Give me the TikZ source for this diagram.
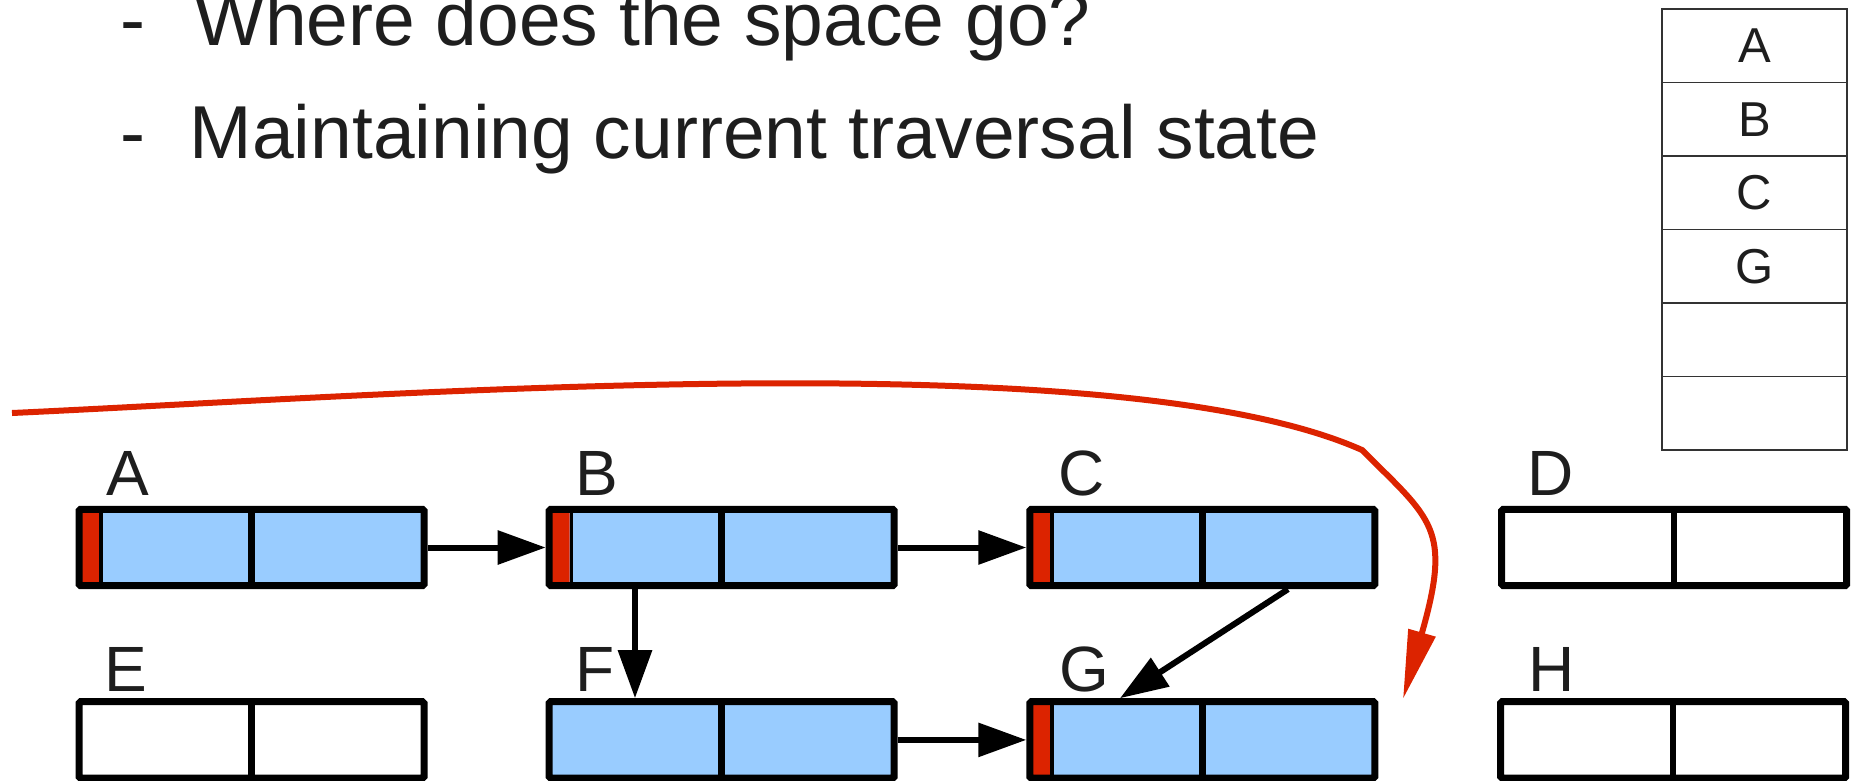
\documentclass[tikz,border=0pt]{standalone}
\usepackage{fontspec}
\setmainfont{Liberation Sans}
\usetikzlibrary{arrows.meta}
\definecolor{cellblue}{HTML}{99CCFF}
\definecolor{markred}{HTML}{DC2300}
\definecolor{ink}{HTML}{1E1E1E}
\tikzset{
  cell/.style={draw=black, line width=7pt, minimum width=345pt, minimum height=76.4pt,
    inner sep=0pt, rounded corners=1.5pt,
    path picture={\draw[line width=6.5pt] (path picture bounding box.north) -- (path picture bounding box.south);}},
  livecell/.style={cell, fill=cellblue},
  markcell/.style={cell, fill=cellblue,
    path picture={
      \fill[markred] (path picture bounding box.north west) rectangle ([xshift=20.5pt]path picture bounding box.south west);
      \draw[line width=3.5pt] ([xshift=22.2pt]path picture bounding box.north west) -- ([xshift=22.2pt]path picture bounding box.south west);
      \draw[line width=6.5pt] (path picture bounding box.north) -- (path picture bounding box.south);}},
  lbl/.style={inner sep=0pt, anchor=base west, text=ink, font=\fontsize{64pt}{70pt}\selectfont},
  title/.style={inner sep=0pt, anchor=base west, text=ink, font=\fontsize{75pt}{80pt}\selectfont},
  stackcell/.style={draw=black!80, line width=1.6pt, minimum width=185.3pt, minimum height=73.45pt,
    inner sep=0pt, text=ink, font=\fontsize{49pt}{54pt}\selectfont},
  link/.style={line width=6pt, -{Triangle[length=48pt,width=33pt]}},
  trav/.style={draw=markred, line width=6pt, -{Triangle[length=69pt,width=27pt]}},
}
\begin{document}
\begin{tikzpicture}[x=1pt,y=-1pt]
\useasboundingbox (0,0) rectangle (1854,780);
\clip (0,0) rectangle (1854,780);

% title lines
\node[title] (d1) at (120.7,45) {-};
\node[title] (t1) at (194,45) {Where does the space go?};
\node[title] (d2) at (120.7,158) {-};
\node[title] (t2) at (189.5,158) {Maintaining current traversal state};

% stack
\node[stackcell] (s1) at (1754.35,45.8) {A};
\node[stackcell] (s2) at (1754.35,119.25) {B};
\node[stackcell] (s3) at (1754.35,192.7) {C};
\node[stackcell] (s4) at (1754.35,266.15) {G};
\node[stackcell] (s5) at (1754.35,339.6) {};
\node[stackcell] (s6) at (1754.35,413.05) {};

% objects
\node[markcell] (A) at (251.5,547.5) {};
\node[markcell] (B) at (721.7,547.5) {};
\node[markcell] (C) at (1202.3,547.5) {};
\node[cell]     (D) at (1674.2,547.5) {};
\node[cell]     (E) at (251.5,739.9) {};
\node[livecell] (F) at (721.7,739.9) {};
\node[markcell] (G) at (1202.3,739.9) {};
\node[cell]     (H) at (1673.2,739.9) {};

% labels
\node[lbl] (la) at (106,495) {A};
\node[lbl] (lb) at (575,495) {B};
\node[lbl] (lc) at (1058.5,495) {C};
\node[lbl] (ld) at (1527.7,495) {D};
\node[lbl] (le) at (104,691.7) {E};
\node[lbl] (lf) at (575,691.7) {F};
\node[lbl] (lg) at (1059,691.7) {G};
\node[lbl] (lh) at (1528,691.7) {H};

% pointers
\draw[link] (A.east) -- (B.west);
\draw[link] (B.east) -- (C.west);
\draw[link] (F.east) -- (G.west);
\draw[link] ([xshift=-86.7pt]B.south) -- ([xshift=-86.7pt]F.north);
\draw[link] ([xshift=85.7pt]C.south) -- ([xshift=-82.3pt]G.north);

% traversal
\coordinate (r0) at (12,413);
\coordinate (r1) at (1362,450);
\coordinate (r2) at (1403,699);
\draw[trav] (r0) .. controls (400,395) and (1115,340) .. (r1)
            .. controls (1432,520) and (1452,528) .. (r2);
\end{tikzpicture}
\end{document}
